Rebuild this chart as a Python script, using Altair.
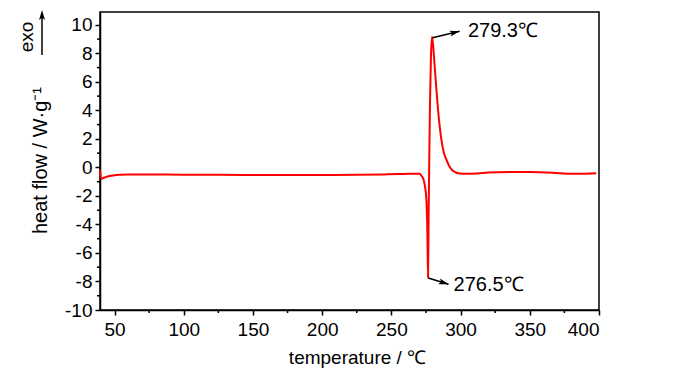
import altair as alt
import pandas as pd

# DSC curve (temperature in °C, heat flow in W/g)
temperature = [39.5, 40.4, 42.0, 44.0, 46.4, 50.0, 53.6, 60, 80, 100, 125, 150, 175, 200,
               225, 245, 255, 262, 266, 268.5, 270.4, 271.8, 273.3, 274.4, 275.3, 276.0,
               276.5, 276.9, 277.3, 277.9, 278.6, 279.3, 280.0, 281.3, 282.5, 283.7, 285.0,
               286.1, 288.0, 289.7, 291.5, 293.4, 296.0, 299.4, 305, 312, 320, 335, 350,
               366.5, 381, 390, 398]
heat_flow = [-0.17, -0.80, -0.74, -0.66, -0.60, -0.55, -0.51, -0.50, -0.50, -0.51, -0.52, -0.53,
             -0.54, -0.53, -0.52, -0.49, -0.47, -0.45, -0.44, -0.44, -0.45, -0.60, -0.87, -1.40,
             -2.27, -4.58, -7.73, -3.50, 0.0, 4.5, 7.8, 9.15, 8.7, 7.08, 5.5, 4.06, 2.8,
             1.96, 1.0, 0.56, 0.15, -0.14, -0.33, -0.42, -0.45, -0.42, -0.36, -0.32, -0.33,
             -0.38, -0.45, -0.44, -0.41]

# annotations: arrow start, arrow tip, label position, arrowhead angle
ann_label = ["279.3℃", "276.5℃"]
ann_x_start = [279.8, 276.6]
ann_y_start = [9.1, -7.75]
ann_x_tip = [299.3, 291.3]
ann_y_tip = [9.55, -8.2]
ann_x_text = [305.3, 294.9]
ann_y_text = [9.58, -8.22]
ann_angle = [76.3, 107.7]

x_major = list(range(50, 401, 50))
x_minor = list(range(75, 400, 50))
y_major = list(range(-10, 11, 2))
y_minor = list(range(-9, 10, 2))

FONT = "Liberation Sans"
ARROW = "M0,0L1,3.3L0,2.6L-1,3.3Z"
W, H = 499, 298

curve = pd.DataFrame({"T": temperature, "HF": heat_flow})
ann = pd.DataFrame({"label": ann_label, "xs": ann_x_start, "ys": ann_y_start,
                    "xt": ann_x_tip, "yt": ann_y_tip, "xl": ann_x_text,
                    "yl": ann_y_text, "ang": ann_angle})

x_scale = alt.Scale(domain=[39.5, 400], nice=False, zero=False)
y_scale = alt.Scale(domain=[-10, 10.9], nice=False, zero=False)

x_axis = alt.Axis(
    values=x_major, tickCount=40, labelExpr="'' + datum.value", tickSize=5,
    labelOverlap=False, grid=False, labelPadding=5,
    title="temperature / ℃", titleX=257, titleY=47, titleBaseline="middle",
    titleFontSize=19,
)
y_axis = alt.Axis(
    values=y_major, tickCount=40, labelExpr="'' + datum.value", tickSize=5,
    labelOverlap=False, grid=False, labelPadding=3,
    title="heat flow / W·g⁻¹", titleX=-60, titleY=148, titleBaseline="middle",
    titleAngle=270, titleFontSize=20,
)

line = alt.Chart(curve).mark_line(color="#ff0000", strokeWidth=2, interpolate="monotone").encode(
    x=alt.X("T:Q", scale=x_scale, axis=x_axis),
    y=alt.Y("HF:Q", scale=y_scale, axis=y_axis),
)

# minor ticks
x_minor_ticks = alt.Chart(pd.DataFrame({"v": x_minor})).mark_rule(
    color="black", strokeWidth=1.5).encode(
    x=alt.X("v:Q", scale=x_scale), y=alt.value(H), y2=alt.value(H + 3)
)
y_minor_ticks = alt.Chart(pd.DataFrame({"v": y_minor})).mark_rule(
    color="black", strokeWidth=1.5).encode(
    y=alt.Y("v:Q", scale=y_scale), x=alt.value(0), x2=alt.value(-3)
)

arrow_lines = alt.Chart(ann).mark_rule(color="black", strokeWidth=1.5).encode(
    x="xs:Q", y="ys:Q", x2="xt:Q", y2="yt:Q"
)
arrow_heads = alt.Chart(ann).mark_point(shape=ARROW, filled=True, color="black",
                                        size=36, opacity=1).encode(
    x="xt:Q", y="yt:Q", angle=alt.Angle("ang:Q", scale=None)
)
labels = alt.Chart(ann).mark_text(font=FONT, fontSize=20, align="left",
                                  baseline="middle", color="black").encode(
    x="xl:Q", y="yl:Q", text="label:N"
)

exo_df = pd.DataFrame({"t": ["exo"]})
exo_text = alt.Chart(exo_df).mark_text(font=FONT, fontSize=19, angle=270, align="center",
                                       baseline="middle", color="black").encode(
    x=alt.value(-73), y=alt.value(25), text="t:N"
)
exo_line = alt.Chart(exo_df).mark_rule(color="black", strokeWidth=1.5).encode(
    x=alt.value(-58), y=alt.value(43), y2=alt.value(4)
)
exo_head = alt.Chart(exo_df).mark_point(shape=ARROW, filled=True, color="black",
                                        size=36, opacity=1).encode(
    x=alt.value(-58), y=alt.value(-2)
)

chart = alt.layer(line, x_minor_ticks, y_minor_ticks, arrow_lines, arrow_heads, labels,
                  exo_line, exo_head, exo_text).properties(
    width=W, height=H,
    autosize=alt.AutoSizeParams(type="none"),
    padding={"left": 92, "top": 4, "right": 9, "bottom": 60},
).configure_view(stroke="black", strokeWidth=1.5).configure_axis(
    domainColor="black", domainWidth=1.5, tickColor="black", tickWidth=1.5,
    labelFont=FONT, labelFontSize=19, labelColor="black", labelOverlap=False,
    titleFont=FONT, titleFontWeight="normal", titleColor="black",
)

chart.save("out.html", embed_options={"renderer": "svg", "actions": False})
